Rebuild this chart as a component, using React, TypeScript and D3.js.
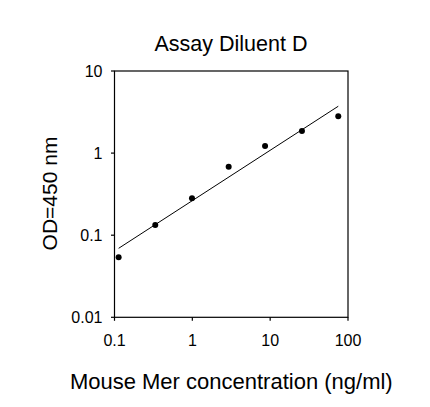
import React, { useEffect, useRef } from "react";
import * as d3 from "d3";

const concentrations = [0.113, 0.334, 0.99, 2.93, 8.6, 25.6, 75];
const odValues = [0.054, 0.133, 0.281, 0.682, 1.22, 1.86, 2.81];
const xTicks = [0.1, 1, 10, 100];
const yTicks = [0.01, 0.1, 1, 10];
const xTickLabels = ["0.1", "1", "10", "100"];
const yTickLabels = ["0.01", "0.1", "1", "10"];
const title = "Assay Diluent D";
const xLabel = "Mouse Mer concentration (ng/ml)";
const yLabel = "OD=450 nm";

const W = 430;
const H = 407;
const M = { left: 114.5, right: 348, top: 71, bottom: 317.3 };
const FONT = "'Liberation Sans', Arial, sans-serif";

export default function App() {
  const ref = useRef<SVGSVGElement>(null);

  useEffect(() => {
    const svg = d3.select(ref.current);
    svg.selectAll("*").remove();

    const x = d3.scaleLog().domain([0.1, 100]).range([M.left, M.right]);
    const y = d3.scaleLog().domain([0.01, 10]).range([M.bottom, M.top]);

    svg.append("rect").attr("width", W).attr("height", H).attr("fill", "#fff");

    // frame
    svg
      .append("rect")
      .attr("x", M.left)
      .attr("y", M.top)
      .attr("width", M.right - M.left)
      .attr("height", M.bottom - M.top)
      .attr("fill", "none")
      .attr("stroke", "#000")
      .attr("stroke-width", 1.2);

    // x axis ticks
    const xa = svg.append("g");
    xTicks.forEach((t, i) => {
      xa.append("line")
        .attr("x1", x(t))
        .attr("x2", x(t))
        .attr("y1", M.bottom)
        .attr("y2", M.bottom + 3.5)
        .attr("stroke", "#000")
        .attr("stroke-width", 1.2);
      xa.append("text")
        .attr("x", x(t))
        .attr("y", 346)
        .attr("text-anchor", "middle")
        .attr("font-family", FONT)
        .attr("font-size", 16)
        .attr("fill", "#000")
        .text(xTickLabels[i]);
    });

    // y axis ticks
    const ya = svg.append("g");
    yTicks.forEach((t, i) => {
      ya.append("line")
        .attr("x1", M.left - 3.5)
        .attr("x2", M.left)
        .attr("y1", y(t))
        .attr("y2", y(t))
        .attr("stroke", "#000")
        .attr("stroke-width", 1.2);
      ya.append("text")
        .attr("x", 102.5)
        .attr("y", y(t) + 5.8)
        .attr("text-anchor", "end")
        .attr("font-family", FONT)
        .attr("font-size", 16)
        .attr("fill", "#000")
        .text(yTickLabels[i]);
    });

    // least-squares fit in log-log space
    const lx = concentrations.map(Math.log10);
    const ly = odValues.map(Math.log10);
    const mx = d3.mean(lx)!;
    const my = d3.mean(ly)!;
    const slope =
      d3.sum(lx.map((v, i) => (v - mx) * (ly[i] - my))) /
      d3.sum(lx.map((v) => (v - mx) * (v - mx)));
    const intercept = my - slope * mx;
    const fitX = d3.extent(concentrations) as [number, number];
    const fitPts = fitX.map((c) => [c, Math.pow(10, intercept + slope * Math.log10(c))]);
    const line = d3
      .line<number[]>()
      .x((d) => x(d[0]))
      .y((d) => y(d[1]));
    svg
      .append("path")
      .attr("d", line(fitPts)!)
      .attr("fill", "none")
      .attr("stroke", "#000")
      .attr("stroke-width", 1);

    // points
    svg
      .append("g")
      .selectAll("circle")
      .data(concentrations)
      .join("circle")
      .attr("cx", (d) => x(d))
      .attr("cy", (_d, i) => y(odValues[i]))
      .attr("r", 3)
      .attr("fill", "#000");

    // title
    svg
      .append("text")
      .attr("x", 231)
      .attr("y", 50.5)
      .attr("text-anchor", "middle")
      .attr("font-family", FONT)
      .attr("font-size", 21.5)
      .attr("fill", "#000")
      .text(title);

    // x label
    svg
      .append("text")
      .attr("x", 231.3)
      .attr("y", 389)
      .attr("text-anchor", "middle")
      .attr("font-family", FONT)
      .attr("font-size", 22)
      .attr("fill", "#000")
      .text(xLabel);

    // y label
    svg
      .append("text")
      .attr("transform", `translate(57,193.5) rotate(-90)`)
      .attr("text-anchor", "middle")
      .attr("font-family", FONT)
      .attr("font-size", 21)
      .attr("fill", "#000")
      .text(yLabel);
  }, []);

  return (
    <svg
      ref={ref}
      width={W}
      height={H}
      style={{ position: "absolute", left: 0, top: 0, display: "block" }}
    />
  );
}
